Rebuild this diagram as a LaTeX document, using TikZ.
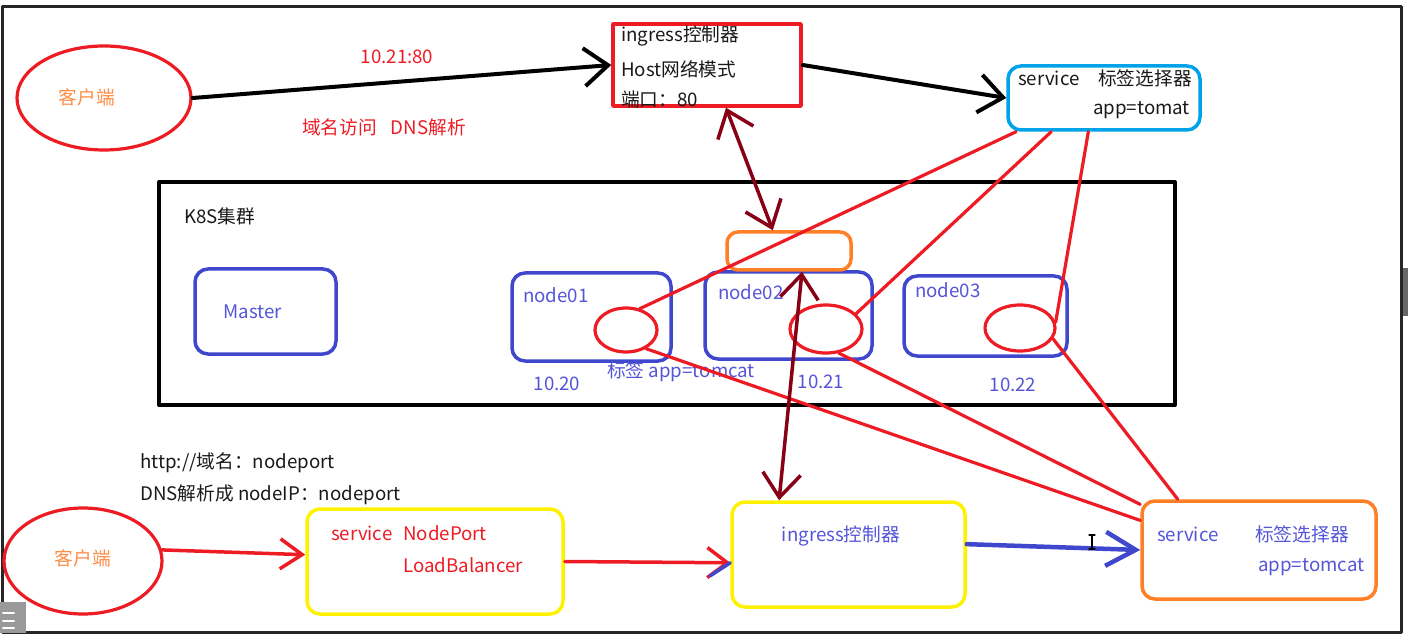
\documentclass[tikz,border=0pt]{standalone}
\usepackage{fontspec}
\setmainfont{Noto Sans CJK SC}
\usetikzlibrary{arrows.meta,shapes.geometric,calc}

\definecolor{hred}{RGB}{237,28,36}
\definecolor{horange}{RGB}{255,127,39}
\definecolor{horangetxt}{RGB}{255,140,70}
\definecolor{hblue}{RGB}{63,72,204}
\definecolor{htxtblue}{RGB}{85,85,215}
\definecolor{hcyan}{RGB}{0,162,232}
\definecolor{hyellow}{RGB}{255,242,0}
\definecolor{hmaroon}{RGB}{136,0,21}
\definecolor{hink}{RGB}{25,25,25}

\begin{document}
\begin{tikzpicture}[x=1pt, y=-1pt, line cap=round, line join=round,
    >={Straight Barb[length=24pt, width=38pt]},
    font=\fontsize{18.7}{22}\selectfont, text=hink,
    sz/.style 2 args={minimum width=#1pt, minimum height=#2pt},
    lbl/.style={inner sep=0pt},
    lblw/.style={inner sep=0pt, anchor=west},
    redbox/.style={draw=hred, line width=3.5pt, inner sep=0pt},
    rbox/.style={draw=#1, line width=3.5pt, rounded corners=13pt, inner sep=0pt},
    ell/.style={ellipse, draw=hred, line width=3.2pt, inner sep=0pt},
    redline/.style={hred, line width=3.2pt},
    darkarrow/.style={<->, hmaroon, line width=3.5pt}]

\useasboundingbox (0,0) rectangle (1408,636);

% ═══════════════════════════════════════════════════════
% MARCO (captura de pantalla)
% ═══════════════════════════════════════════════════════
\draw[line width=3pt, black!85] (2,7) rectangle (1401,632);
\fill[black!60] (1403,268) rectangle (1408,316);

% ═══════════════════════════════════════════════════════
% ARRIBA: cliente -> ingress (host) -> service
% ═══════════════════════════════════════════════════════

% cliente
\node[ell, sz={174}{104}] (cliT) at (104,98) {};
\node[lbl, text=horangetxt] (cliTlbl) at (87,97) {客户端};

\node[lbl, text=hred] (ipLbl) at (397,57) {10.21:80};
\node[lbl, text=hred] (dnsLbl) at (384,127) {域名访问\hspace{14pt}DNS解析};

% ingress controlador (modo host)
\node[redbox, sz={188}{82}] (ingT) at (707,65) {};
\node[lblw] (ingT1) at (621,36) {ingress控制器};
\node[lblw] (ingT2) at (621,69) {Host网络模式};
\node[lblw] (ingT3) at (621,99) {端口：80};

% service con selector
\node[rbox=hcyan, sz={192}{64}] (svcT) at (1104,98) {};
\node[lblw] (svcT1) at (1018,78) {service};
\node[lblw] (svcT2) at (1098,78) {标签选择器};
\node[lblw] (svcT3) at (1093,110) {app=tomat};

\draw[->, line width=4pt] (cliT.east) -- (ingT.west);
\draw[->, line width=4pt] (ingT.east) -- (svcT.west);

% ═══════════════════════════════════════════════════════
% CLUSTER K8S
% ═══════════════════════════════════════════════════════
\node[draw, line width=4pt, inner sep=0pt, sz={1016}{223}] (k8s) at (667,293.5) {};
\node[lblw] (k8sLbl) at (184,216) {K8S集群};

\node[rbox=hblue, sz={141}{85}] (master) at (265.5,311.5) {};
\node[lbl, text=htxtblue] (masterLbl) at (253,312) {Master};

\node[rbox=hblue, sz={159}{88}] (n1) at (591.5,317) {};
\node[rbox=hblue, sz={167}{87}] (n2) at (788.5,315.5) {};
\node[rbox=hblue, sz={163}{80}] (n3) at (985.5,316) {};
\node[rbox=horange, sz={124}{38}, rounded corners=11pt] (ingPod) at (789,251) {};

\node[lblw, text=htxtblue] (n1Lbl) at (523,295) {node01};
\node[lblw, text=htxtblue] (n2Lbl) at (718,292) {node02};
\node[lblw, text=htxtblue] (n3Lbl) at (915,290) {node03};
\node[lbl, text=htxtblue] (ip1) at (557,384) {10.20};
\node[lbl, text=htxtblue] (ip2) at (821,382) {10.21};
\node[lbl, text=htxtblue] (ip3) at (1013,385) {10.22};
\node[lblw, text=htxtblue] (tagLbl) at (607,372) {标签 app=tomcat};

% pods
\node[ell, sz={62}{44}] (e1) at (626,330) {};
\node[ell, sz={72}{48}] (e2) at (826,329) {};
\node[ell, sz={70}{46}] (e3) at (1020,328) {};

% ═══════════════════════════════════════════════════════
% ABAJO: cliente -> service NodePort -> ingress -> service
% ═══════════════════════════════════════════════════════
\node[ell, sz={158}{106}] (cliB) at (83,561) {};
\node[lbl, text=horangetxt] (cliBlbl) at (83,558) {客户端};

\node[lblw] (httpLbl) at (140,463) {http://域名：nodeport};
\node[lblw] (dnsB) at (140,495) {DNS解析成 nodeIP：nodeport};

\node[rbox=hyellow, sz={256}{105}] (np) at (435,561.5) {};
\node[lblw, text=hred] (np1) at (331,533) {service};
\node[lblw, text=hred] (np2) at (403,533) {NodePort};
\node[lblw, text=hred] (np3) at (403,565) {LoadBalancer};

\node[rbox=hyellow, sz={233}{105}] (ingB) at (848.5,554.5) {};
\node[lbl, text=htxtblue] (ingBlbl) at (841,536) {ingress控制器};

\node[rbox=horange, sz={234}{98}] (svcB) at (1259,550) {};
\node[lblw, text=htxtblue] (svcB1) at (1157,534) {service};
\node[lblw, text=htxtblue] (svcB2) at (1255,534) {标签选择器};
\node[lblw, text=htxtblue] (svcB3) at (1258,567) {app=tomcat};

% ═══════════════════════════════════════════════════════
% CONEXIONES
% ═══════════════════════════════════════════════════════

% selector arriba -> pods
\draw[redline] ($(svcT.south west)!0.05!(svcT.south east)$) -- (e1.57);
\draw[redline] ($(svcT.south west)!0.23!(svcT.south east)$) -- (e2.27);
\draw[redline] ($(svcT.south west)!0.42!(svcT.south east)$) -- (e3.9);

% pods -> selector abajo
\draw[redline] (e1.-43) -- (svcB.166);
\draw[redline] (e2.-62) -- (svcB.159);
\draw[redline] (e3.-18) -- (svcB.148);

% ingress <-> pod ingress
\draw[darkarrow] (ingT.-66) -- (ingPod.128);
\draw[darkarrow] (ingPod.-58) -- (ingB.142.5);

% flujo de abajo
\draw[->, hred, line width=3.5pt, >={Straight Barb[length=22pt, width=30pt]}]
    (cliB.8) -- (np.177);
\draw[->, hred, line width=3.5pt, >={Straight Barb[length=20pt, width=30pt]}]
    (np.east) -- (ingB.184);
\draw[hblue, line width=3.5pt] (ingB.184) -- ++(-20,13);
\draw[->, hblue, line width=4.5pt, >={Straight Barb[length=30pt, width=34pt]}]
    (ingB.5) -- (svcB.west);

% cursor
\draw[black, line width=1.2pt] (1092,535) -- (1092,549)
    (1089,535) -- (1095,535) (1089,549) -- (1095,549);

% icono
\fill[black!40] (0,602) rectangle (26,633);
\foreach \yy in {613,621,628}
    \draw[white, line width=2pt] (3,\yy) -- (14,\yy);

\end{tikzpicture}
\end{document}
